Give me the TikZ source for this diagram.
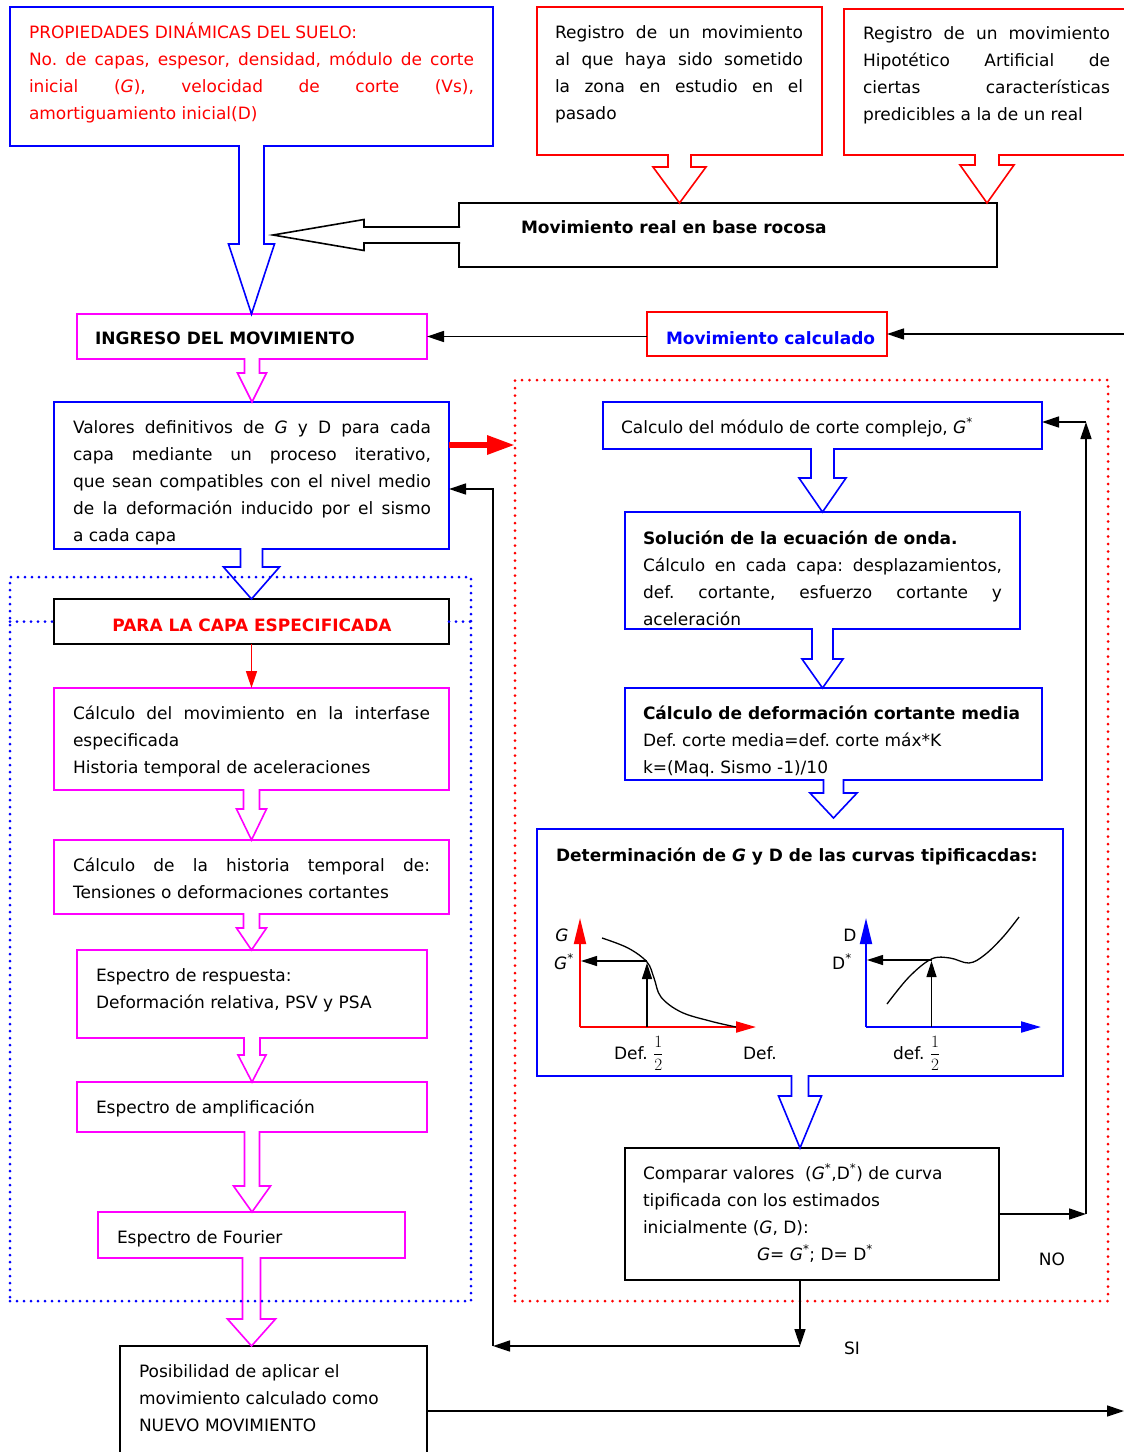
\documentclass[tikz,border=0pt]{standalone}
\usepackage[no-math]{fontspec}
\setmainfont{DejaVu Sans}
\usetikzlibrary{arrows.meta,calc,fit}
\definecolor{mag}{RGB}{255,0,255}
\definecolor{pblue}{RGB}{0,0,255}
\definecolor{pred}{RGB}{255,0,0}
\frenchspacing
\newcommand{\J}[1]{\makebox[\linewidth][s]{#1}}
\newcommand{\Gi}{\textit{G}}
\newcommand{\st}{\textsuperscript{*}}
\newcommand{\half}{$\displaystyle\frac{1}{2}$}
% hollow block arrow going down from a source anchor to a target point
\newcommand{\hdown}[6]{%
  \draw[harrow, draw=#1] let \p1=(#2), \p2=(#3) in
    (\x1-#4pt, \y1+1pt) -- (\x1-#4pt, \y2+#6pt) -- (\x1-#5pt, \y2+#6pt) -- (\x1, \y2)
    -- (\x1+#5pt, \y2+#6pt) -- (\x1+#4pt, \y2+#6pt) -- (\x1+#4pt, \y1+1pt);}
% hollow block arrow going left
\newcommand{\hleft}[6]{%
  \draw[harrow, draw=#1] let \p1=(#2), \p2=(#3) in
    (\x1+1pt, \y1+#4pt) -- (\x2+#6pt, \y1+#4pt) -- (\x2+#6pt, \y1+#5pt) -- (\x2, \y1)
    -- (\x2+#6pt, \y1-#5pt) -- (\x2+#6pt, \y1-#4pt) -- (\x1+1pt, \y1-#4pt);}
\begin{document}
\begin{tikzpicture}[x=1pt,y=-1pt,
  every node/.style={font=\fontsize{17}{27}\selectfont},
  bx/.style={draw, line width=1.6pt, inner sep=0pt, outer sep=0pt},
  bluebox/.style={bx, draw=pblue},
  redbox/.style={bx, draw=pred},
  magbox/.style={bx, draw=mag},
  blkbox/.style={bx, draw=black},
  txt/.style={inner sep=0pt, outer sep=0pt, anchor=base west},
  bold/.style={font=\fontsize{17}{27}\selectfont\bfseries},
  conn/.style={line width=1.5pt, -{Triangle[length=17pt,width=11pt]}},
  gconn/.style={line width=1.2pt, -{Triangle[length=16pt,width=10pt]}},
  harrow/.style={line width=1.6pt, fill=white},
  bdots/.style={draw=pblue, line width=3pt, line cap=round, dash pattern=on 0pt off 7pt, inner sep=0pt, outer sep=0pt},
  rdots/.style={draw=pred, line width=3pt, line cap=round, dash pattern=on 0pt off 7.5pt, inner sep=0pt, outer sep=0pt},
]
\useasboundingbox (0,0) rectangle (1124,1452);
\clip (0,0) rectangle (1124,1452);
\fill[white] (0,0) rectangle (1124,1452);

% ---------- boxes ----------
\node[bluebox, fit={(10,7) (493,146)}] (P) {};
\node[redbox, fit={(537,7) (822,155)}] (R1) {};
\node[redbox, fit={(844,9) (1130,155)}] (R2) {};
\node[blkbox, fit={(459,203) (997,267)}] (M) {};
\node[magbox, fit={(77,314) (427,359)}] (I) {};
\node[redbox, fit={(647,312) (887,356)}] (MC) {};
\node[bluebox, fit={(54,402) (449,549)}] (V) {};
\node[blkbox, fit={(54,599) (449,644)}] (PC) {};
\node[magbox, fit={(54,688) (449,790)}] (C1) {};
\node[magbox, fit={(54,840) (449,914)}] (C2) {};
\node[magbox, fit={(77,950) (427,1038)}] (C3) {};
\node[magbox, fit={(77,1082) (427,1132)}] (C4) {};
\node[magbox, fit={(98,1212) (405,1258)}] (C5) {};
\node[blkbox, fit={(120,1346) (427,1470)}] (N) {};
\node[bluebox, fit={(603,402) (1042,449)}] (G) {};
\node[bluebox, fit={(625,512) (1020,629)}] (S) {};
\node[bluebox, fit={(625,688) (1042,780)}] (DC) {};
\node[bluebox, fit={(537,829) (1063,1076)}] (Det) {};
\node[blkbox, fit={(625,1148) (999,1280)}] (Cmp) {};

\coordinate (mtip) at (273,235);

% ---------- hollow block arrows ----------
\hdown{pblue}{P.south}{I.north}{12.5}{23}{70}
\hdown{pred}{R1.south}{M.north}{11.5}{26.5}{36}
\hdown{pred}{R2.south}{M.north}{12}{27}{38}
\hleft{black}{M.west}{mtip}{8}{15.5}{91}
\hdown{mag}{I.south}{V.north}{7.5}{14.5}{29}
\hdown{pblue}{V.south}{PC.north}{11}{28}{32}
\hdown{mag}{C1.south}{C2.north}{8}{15}{31}
\hdown{mag}{C2.south}{C3.north}{8}{15}{22}
\hdown{mag}{C3.south}{C4.north}{8}{14}{27}
\hdown{mag}{C4.south}{C5.north}{7.5}{18.5}{26}
\hdown{mag}{C5.south}{N.north}{9}{24}{27}
\hdown{pblue}{G.south}{S.north}{11.5}{23.5}{34}
\hdown{pblue}{S.south}{DC.north}{10.5}{20.5}{29}
\hdown{pblue}{DC.south}{$(Det.north)+(0,-11)$}{10}{23.5}{25}
\hdown{pblue}{Det.south}{Cmp.north}{8.5}{21.5}{52}

% ---------- dotted groups ----------
\node[bdots, fit={(10,577) (471,1301)}] (LB) {};
\node[rdots, fit={(515,380) (1108,1301)}] (RB) {};
\draw[bdots] (LB.west |- PC.west) -- (PC.west);
\draw[bdots] (PC.east) -- (LB.east |- PC.east);

% ---------- connectors ----------
\coordinate (edgeA) at (1124,334);
\draw[conn] (edgeA) -- (MC.east |- edgeA);
\draw[conn] (MC.west |- I.east) -- (I.east);
\coordinate (ra) at ([yshift=30.5pt]V.east);
\draw[pred, line width=6pt, -{Triangle[length=28pt,width=18pt]}] (ra) -- (RB.west |- ra);
\draw[conn, pred] (PC.south) -- (C1.north);
\coordinate (si1) at (800,1346);
\coordinate (si2) at (493,1346);
\coordinate (vb) at ([yshift=-13.5pt]V.east);
\draw[conn] (si1 |- Cmp.south) -- (si1);
\draw[conn] (si1) -- (si2);
\draw[conn] (si2) |- (vb);
\coordinate (no1) at (1086,1214);
\coordinate (no2) at (1086,422);
\draw[conn] (Cmp.east |- no1) -- (no1);
\draw[conn] (no1) -- (no2);
\draw[conn] (no2) -- (G.east |- no2);
\coordinate (edgeB) at (1124,1411);
\draw[conn] (N.east |- edgeB) -- (edgeB);

% ---------- texts ----------
\node[txt, text=pred] (Pt) at (29,38) {\parbox[t]{445pt}{PROPIEDADES DINÁMICAS DEL SUELO:\\
 \J{No. de capas, espesor, densidad, módulo de corte}\\
 \J{inicial (\Gi), velocidad de corte (Vs),}\\
 amortiguamiento inicial(D)}};
\node[txt] (R1t) at (555,38) {\parbox[t]{248pt}{\J{Registro de un movimiento}\\
 \J{al que haya sido sometido}\\
 \J{la zona en estudio en el}\\
 pasado}};
\node[txt] (R2t) at (863,39) {\parbox[t]{247pt}{\J{Registro de un movimiento}\\
 \J{Hipotético Artificial de}\\
 \J{ciertas características}\\
 predicibles a la de un real}};
\node[txt, bold] (Mt) at (521,233) {Movimiento real en base rocosa};
\node[txt, bold] (It) at (95,344) {INGRESO DEL MOVIMIENTO};
\node[txt, bold, text=pblue] (MCt) at (666,344) {Movimiento calculado};
\node[txt] (Vt) at (73,433) {\parbox[t]{358pt}{\J{Valores definitivos de \Gi{} y D para cada}\\
 \J{capa mediante un proceso iterativo,}\\
 \J{que sean compatibles con el nivel medio}\\
 \J{de la deformación inducido por el sismo}\\
 a cada capa}};
\node[inner sep=0pt, anchor=base, text=pred, bold] (PCt) at (252,631) {PARA LA CAPA ESPECIFICADA};
\node[txt] (C1t) at (73,719) {\parbox[t]{357pt}{\J{Cálculo del movimiento en la interfase}\\
 especificada\\
 Historia temporal de aceleraciones}};
\node[txt] (C2t) at (73,871) {\parbox[t]{357pt}{\J{Cálculo de la historia temporal de:}\\
 Tensiones o deformaciones cortantes}};
\node[txt] (C3t) at (96,981) {\parbox[t]{320pt}{Espectro de respuesta:\\
 Deformación relativa, PSV y PSA}};
\node[txt] (C4t) at (96,1113) {Espectro de amplificación};
\node[txt] (C5t) at (117,1243) {Espectro de Fourier};
\node[txt] (Nt) at (139,1377) {\parbox[t]{285pt}{Posibilidad de aplicar el\\
 movimiento calculado como\\
 NUEVO MOVIMIENTO}};
\node[txt] (Gt) at (621,433) {Calculo del módulo de corte complejo, \Gi\st};
\node[txt] (St) at (643,544) {\parbox[t]{359pt}{\textbf{Solución de la ecuación de onda.}\\
 \J{Cálculo en cada capa: desplazamientos,}\\
 \J{def. cortante, esfuerzo cortante y}\\
 aceleración}};
\node[txt] (DCt) at (643,719) {\parbox[t]{390pt}{\textbf{Cálculo de deformación cortante media}\\
 Def. corte media=def. corte máx*K\\
 k=(Maq. Sismo -1)/10}};
\node[txt, bold] (Dett) at (556,861) {Determinación de \Gi{} y D de las curvas tipificacdas:};
\node[txt] (Cmpt) at (643,1179) {\parbox[t]{350pt}{Comparar valores\ \ (\Gi\st,D\st) de curva\\
 tipificada con los estimados\\
 inicialmente (\Gi, D):\\
 \hspace*{114pt}\Gi= \Gi\st; D= D\st}};
\node[inner sep=0pt, anchor=base] (NOt) at (1052,1265) {NO};
\node[inner sep=0pt, anchor=base] (SIt) at (852,1354) {SI};

% ---------- typical curves (plots) ----------
\draw[pred, line width=2pt, -{Triangle[length=26pt,width=12pt]}] (580,1027) -- (580,918);
\draw[pred, line width=2pt, -{Triangle[length=20pt,width=11pt]}] (580,1027) -- (756,1027);
\draw[line width=1.3pt] plot[smooth, tension=0.6] coordinates {(602,938) (628,948) (647,962) (654,978) (661,997) (681,1012) (710,1021) (736,1027)};
\draw[gconn] (647,1027) -- (647,963);
\draw[gconn] (647,961) -- (581,961);
\node[inner sep=0pt, anchor=base] (Glab) at (562,941) {\Gi};
\node[inner sep=0pt, anchor=base] (Gslab) at (564,969) {\Gi\st};
\node[txt] (d1) at (614,1059) {Def. \half};
\node[txt] (d2) at (743,1059) {Def.};

\draw[pblue, line width=2pt, -{Triangle[length=26pt,width=12pt]}] (866,1027) -- (866,918);
\draw[pblue, line width=2pt, -{Triangle[length=20pt,width=11pt]}] (866,1027) -- (1041,1027);
\draw[line width=1.3pt] plot[smooth, tension=0.6] coordinates {(887,1004) (909,977) (931.5,959) (950,958) (969,963) (984.5,955) (1003,937) (1019,917)};
\draw[gconn] (931.5,1027) -- (931.5,961);
\draw[gconn] (931.5,960) -- (867,960);
\node[inner sep=0pt, anchor=base] (Dlab) at (850,941) {D};
\node[inner sep=0pt, anchor=base] (Dslab) at (842,969) {D\st};
\node[txt] (d3) at (893,1059) {def. \half};
\end{tikzpicture}
\end{document}
